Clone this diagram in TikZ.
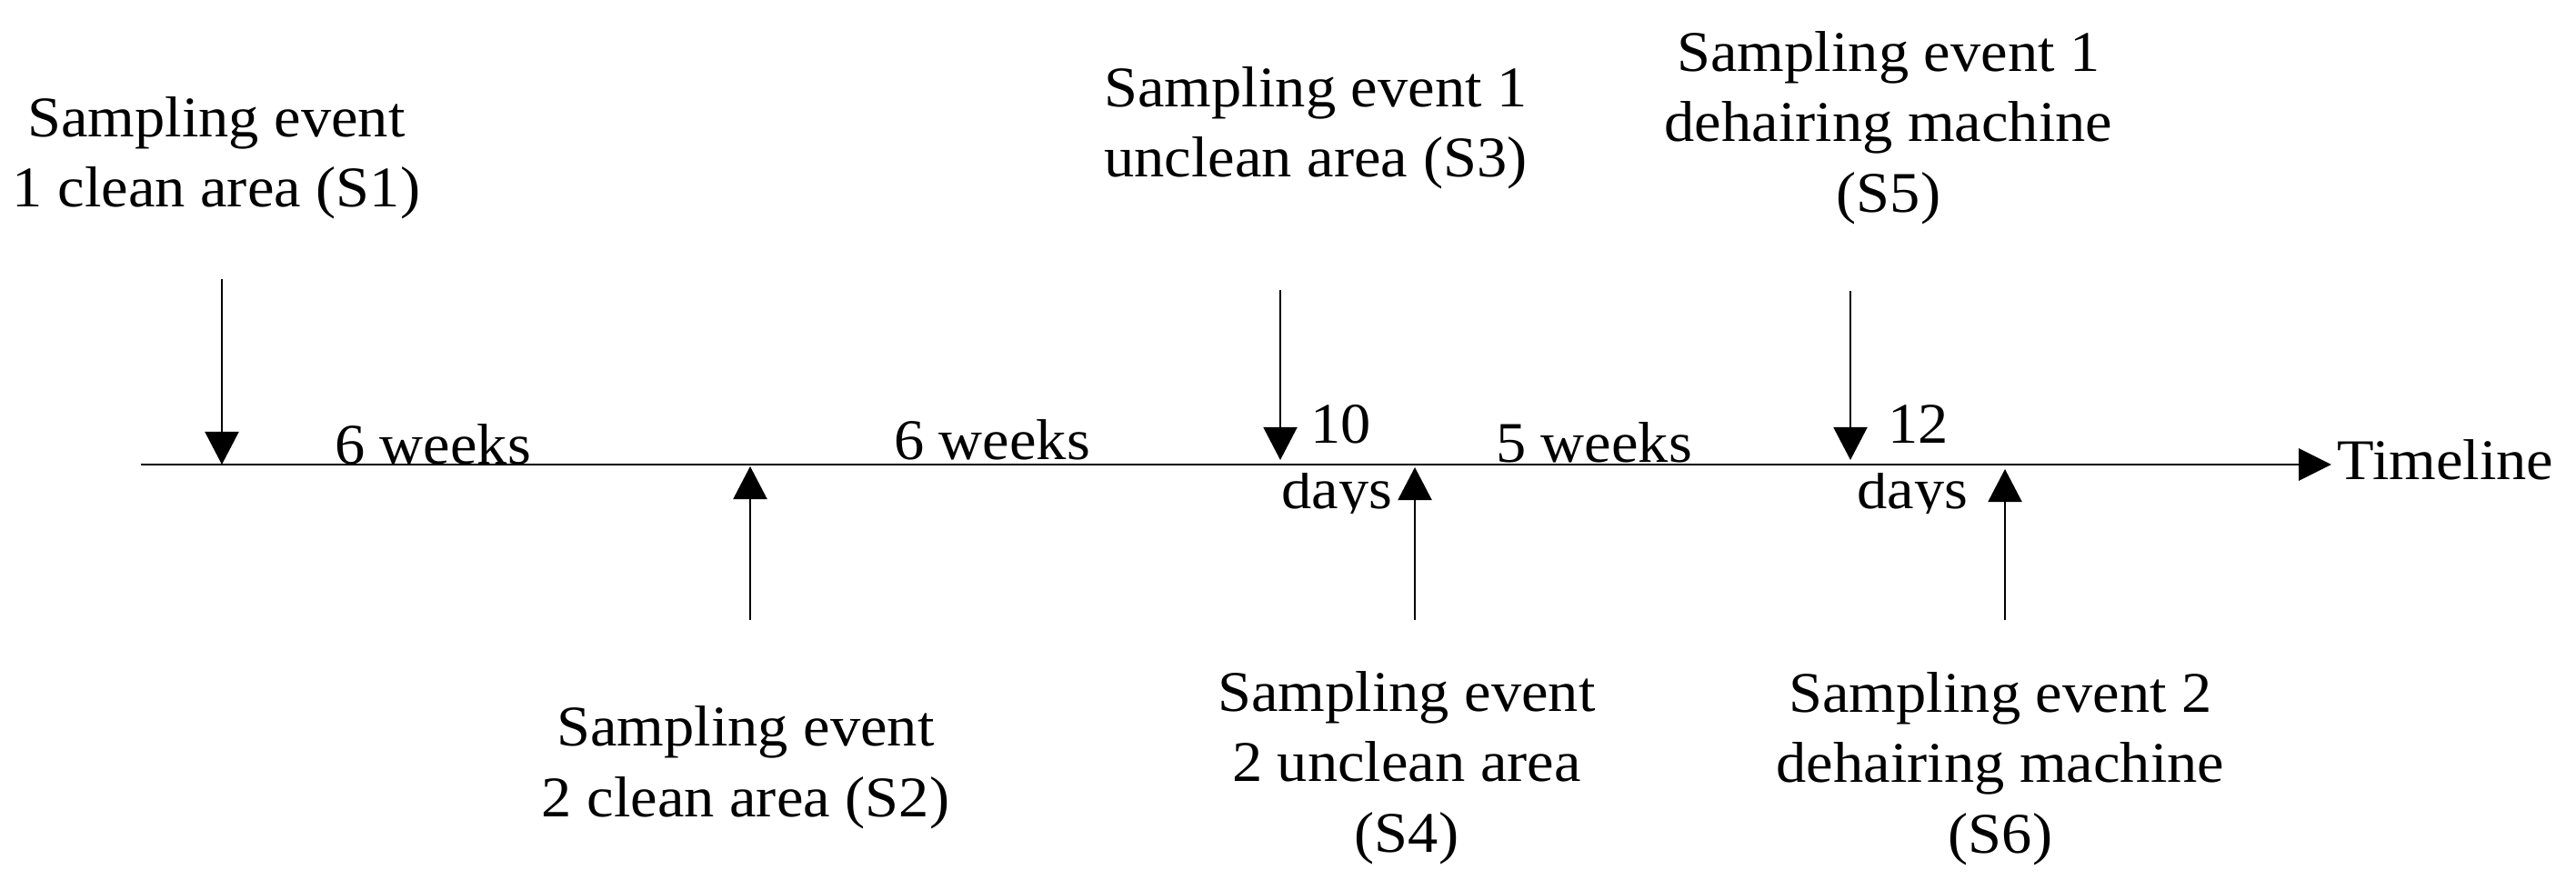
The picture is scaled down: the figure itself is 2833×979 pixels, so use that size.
\documentclass[tikz,border=0pt]{standalone}
\usepackage{fontspec}
\setmainfont{Liberation Serif}[FakeStretch=1.05]
\usetikzlibrary{arrows.meta}
\begin{document}
\begin{tikzpicture}[x=0.01cm,y=-0.01cm,
  lbl/.style={align=center,anchor=base,inner sep=0pt,font=\fontsize{18}{21.9}\selectfont},
  gap/.style={anchor=base,inner sep=0pt,font=\fontsize{18}{21.9}\selectfont},
  gapw/.style={anchor=base west,inner sep=0pt,font=\fontsize{18}{21.9}\selectfont},
  tline/.style={line width=0.85pt,-{Triangle[width=0.35cm,length=0.36cm]}},
  evarrow/.style={line width=0.6pt,-{Triangle[width=0.37cm,length=0.36cm]}}]
\useasboundingbox (0,0) rectangle (2833,979);
% timeline
\coordinate (tl0) at (155,511);
\coordinate (tl1) at (2564,511);
\draw[tline] (tl0) -- (tl1);
\node[anchor=base west,inner sep=0pt,font=\fontsize{18}{21.9}\selectfont] (tlab) at (2570,527) {Timeline};
% event arrows (down)
\coordinate (s1a) at (244,307); \coordinate (s1b) at (244,511);
\coordinate (s3a) at (1408,319); \coordinate (s3b) at (1408,506);
\coordinate (s5a) at (2035,320); \coordinate (s5b) at (2035,506);
\draw[evarrow] (s1a) -- (s1b);
\draw[evarrow] (s3a) -- (s3b);
\draw[evarrow] (s5a) -- (s5b);
% event arrows (up)
\coordinate (s2a) at (825,682); \coordinate (s2b) at (825,513);
\coordinate (s4a) at (1556,682); \coordinate (s4b) at (1556,514);
\coordinate (s6a) at (2205,682); \coordinate (s6b) at (2205,516);
\draw[evarrow] (s2a) -- (s2b);
\draw[evarrow] (s4a) -- (s4b);
\draw[evarrow] (s6a) -- (s6b);
% event labels (anchor = baseline of last line)
\node[lbl] (l1) at (238,228) {Sampling event\\1 clean area (S1)};
\node[lbl] (l2) at (820,898) {Sampling event\\2 clean area (S2)};
\node[lbl] (l3) at (1447,195) {Sampling event 1\\unclean area (S3)};
\node[lbl] (l4) at (1547,937) {Sampling event\\2 unclean area\\(S4)};
\node[lbl] (l5) at (2077,233) {Sampling event 1\\dehairing machine\\(S5)};
\node[lbl] (l6) at (2200,938) {Sampling event 2\\dehairing machine\\(S6)};
% intervals
\node[gap] (w1) at (476,510) {6 weeks};
\node[gap] (w2) at (1091,505) {6 weeks};
\node[gap] (w3) at (1753,508) {5 weeks};
\node[gapw] (d10) at (1441,487) {10};
\node[gapw] (d12) at (2076,487) {12};
\begin{scope}
\clip (1380,520) rectangle (1620,564);
\node[gapw] (dy1) at (1409,559) {days};
\end{scope}
\begin{scope}
\clip (2020,520) rectangle (2190,564);
\node[gapw] (dy2) at (2042,559) {days};
\end{scope}
\end{tikzpicture}
\end{document}
